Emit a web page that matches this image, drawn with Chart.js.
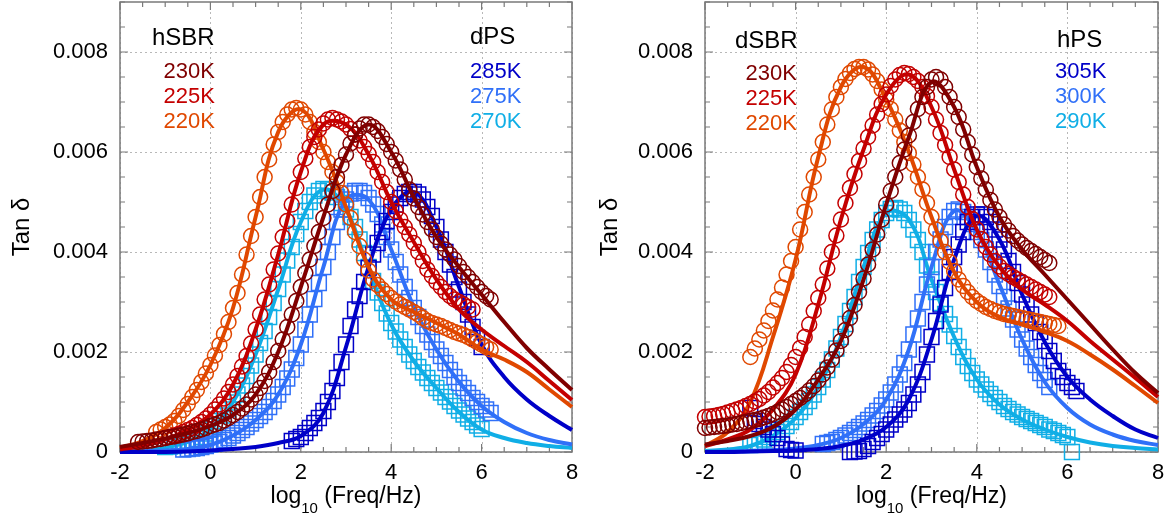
<!DOCTYPE html>
<html>
<head>
<meta charset="utf-8">
<script src="https://cdn.jsdelivr.net/npm/chart.js@4.4.1/dist/chart.umd.min.js"></script>
<style>
  html, body { margin: 0; padding: 0; background: #fff; }
  #wrap { position: relative; width: 1175px; height: 525px; }
  #c1 { position: absolute; left: 0; top: 0; }
  #c2 { position: absolute; left: 587px; top: 0; }
</style>
</head>
<body>
<div id="wrap">
  <canvas id="c1" width="587" height="525"></canvas>
  <canvas id="c2" width="588" height="525"></canvas>
</div>
<script>
// measured points, log10(freq)
const logFreq = [-2.0, -1.9, -1.8, -1.7, -1.6, -1.5, -1.4, -1.3, -1.2, -1.1, -1.0, -0.9, -0.8, -0.7, -0.6, -0.5, -0.4, -0.3, -0.2, -0.1,
                 0.0, 0.1, 0.2, 0.3, 0.4, 0.5, 0.6, 0.7, 0.8, 0.9, 1.0, 1.1, 1.2, 1.3, 1.4, 1.5, 1.6, 1.7, 1.8, 1.9,
                 2.0, 2.1, 2.2, 2.3, 2.4, 2.5, 2.6, 2.7, 2.8, 2.9, 3.0, 3.1, 3.2, 3.3, 3.4, 3.5, 3.6, 3.7, 3.8, 3.9,
                 4.0, 4.1, 4.2, 4.3, 4.4, 4.5, 4.6, 4.7, 4.8, 4.9, 5.0, 5.1, 5.2, 5.3, 5.4, 5.5, 5.6, 5.7, 5.8, 5.9,
                 6.0, 6.1, 6.2];
// fitted curves
const fitFreq = [-2, -1.5, -1, -0.5, 0, 0.5, 1, 1.5, 2, 2.5, 3, 3.5, 4, 4.5, 5, 5.5, 6, 6.5, 7, 7.5, 8];

const xTicks = [-2, 0, 2, 4, 6, 8];
const yTicks = [0, 0.002, 0.004, 0.006, 0.008];

// tan delta x 1e-3, aligned with logFreq (n = no point)
const n = null;
// left panel: hSBR circles
const hSBR230 = [n, n, n, n, 0.20, 0.21, 0.22, 0.23, 0.25, 0.26, 0.28, 0.30, 0.31, 0.33, 0.35, 0.37, 0.40, 0.42, 0.45, 0.48,
    0.52, 0.55, 0.58, 0.63, 0.68, 0.74, 0.80, 0.87, 0.95, 1.05, 1.15, 1.28, 1.42, 1.60, 1.80, 2.02, 2.25, 2.50, 2.75, 3.02,
    3.30, 3.58, 3.85, 4.12, 4.40, 4.68, 4.95, 5.22, 5.50, 5.74, 5.95, 6.17, 6.35, 6.47, 6.55, 6.55, 6.50, 6.42, 6.30, 6.16,
    6.00, 5.83, 5.65, 5.45, 5.25, 5.07, 4.90, 4.75, 4.60, 4.45, 4.30, 4.17, 4.05, 3.95, 3.85, 3.72, 3.60, 3.50, 3.40, 3.30,
    3.20, 3.12, 3.05];
const hSBR225 = [n, n, n, n, n, n, n, n, n, n, 0.28, 0.30, 0.33, 0.36, 0.40, 0.44, 0.48, 0.54, 0.60, 0.67,
    0.75, 0.85, 0.95, 1.07, 1.20, 1.35, 1.52, 1.71, 1.92, 2.17, 2.45, 2.75, 3.05, 3.35, 3.65, 3.97, 4.30, 4.62, 4.95, 5.28,
    5.60, 5.87, 6.10, 6.30, 6.45, 6.57, 6.65, 6.68, 6.65, 6.61, 6.55, 6.46, 6.35, 6.23, 6.10, 5.96, 5.80, 5.60, 5.40, 5.20,
    5.00, 4.82, 4.65, 4.50, 4.35, 4.18, 4.00, 3.82, 3.65, 3.52, 3.40, 3.30, 3.20, 3.12, 3.05, 3.00, 2.95, 2.90, 2.85, n,
    n, n, n];
const hSBR220 = [n, n, n, n, n, n, n, n, 0.40, 0.45, 0.50, 0.55, 0.62, 0.72, 0.84, 0.96, 1.10, 1.24, 1.40, 1.57,
    1.74, 1.93, 2.14, 2.36, 2.60, 2.88, 3.18, 3.55, 3.95, 4.32, 4.70, 5.10, 5.50, 5.85, 6.15, 6.40, 6.60, 6.75, 6.85, 6.88,
    6.85, 6.75, 6.60, 6.40, 6.20, 6.00, 5.80, 5.60, 5.40, 5.18, 4.95, 4.68, 4.40, 4.12, 3.85, 3.63, 3.45, 3.34, 3.25, 3.16,
    3.08, 3.01, 2.95, 2.90, 2.85, 2.80, 2.75, 2.68, 2.62, 2.58, 2.55, 2.52, 2.48, 2.44, 2.40, 2.37, 2.34, 2.30, 2.25, 2.20,
    2.15, 2.10, 2.05];
// left panel: dPS squares
const dPS285 = [n, n, n, n, n, n, n, n, n, n, n, n, n, n, n, n, n, n, n, n,
    n, n, n, n, n, n, n, n, n, n, n, n, n, n, n, n, n, n, 0.22, 0.26,
    0.30, 0.38, 0.48, 0.58, 0.68, 0.82, 1.00, 1.22, 1.48, 1.80, 2.15, 2.52, 2.85, 3.12, 3.40, 3.68, 3.95, 4.18, 4.40, 4.62,
    4.80, 4.95, 5.08, 5.16, 5.20, 5.20, 5.15, 5.05, 4.90, 4.72, 4.50, 4.25, 4.00, 3.75, 3.50, 3.25, 3.00, 2.75, 2.50, 2.28,
    2.10, n, n];
const dPS275 = [n, n, n, n, n, n, n, n, n, n, n, n, n, n, 0.05, 0.06, 0.07, 0.08, 0.10, 0.12,
    0.15, 0.17, 0.20, 0.24, 0.28, 0.33, 0.38, 0.44, 0.50, 0.57, 0.64, 0.72, 0.80, 0.90, 1.02, 1.15, 1.30, 1.47, 1.65, 1.88,
    2.15, 2.45, 2.75, 3.06, 3.38, 3.70, 4.00, 4.30, 4.60, 4.85, 5.05, 5.17, 5.22, 5.22, 5.18, 5.08, 4.95, 4.76, 4.55, 4.30,
    4.05, 3.80, 3.55, 3.30, 3.08, 2.88, 2.70, 2.52, 2.35, 2.20, 2.05, 1.92, 1.78, 1.64, 1.50, 1.38, 1.28, 1.18, 1.08, 1.00,
    0.92, 0.85, 0.78];
const dPS270 = [n, n, n, n, n, n, n, n, n, n, 0.10, 0.11, 0.12, 0.14, 0.16, 0.19, 0.22, 0.26, 0.30, 0.37,
    0.45, 0.53, 0.62, 0.73, 0.85, 0.99, 1.15, 1.33, 1.52, 1.73, 1.95, 2.18, 2.42, 2.70, 2.98, 3.26, 3.55, 3.83, 4.10, 4.36,
    4.60, 4.82, 5.00, 5.13, 5.22, 5.26, 5.25, 5.19, 5.10, 4.98, 4.85, 4.70, 4.50, 4.25, 3.98, 3.70, 3.42, 3.19, 2.98, 2.77,
    2.58, 2.41, 2.25, 2.10, 1.95, 1.82, 1.70, 1.59, 1.48, 1.38, 1.28, 1.19, 1.10, 1.01, 0.92, 0.83, 0.75, 0.67, 0.60, 0.53,
    0.46, n, n];
// right panel: dSBR circles
const dSBR230 = [0.48, 0.49, 0.50, 0.51, 0.52, 0.53, 0.55, 0.56, 0.58, 0.60, 0.62, 0.64, 0.66, 0.69, 0.72, 0.76, 0.80, 0.85, 0.90, 0.96,
    1.02, 1.08, 1.15, 1.23, 1.32, 1.43, 1.55, 1.69, 1.85, 2.03, 2.22, 2.44, 2.68, 2.94, 3.20, 3.47, 3.75, 4.05, 4.35, 4.65,
    4.95, 5.22, 5.50, 5.78, 6.05, 6.33, 6.60, 6.86, 7.10, 7.30, 7.45, 7.50, 7.45, 7.30, 7.10, 6.90, 6.70, 6.45, 6.20, 5.95,
    5.70, 5.47, 5.25, 5.04, 4.85, 4.70, 4.55, 4.43, 4.32, 4.23, 4.15, 4.08, 4.02, 3.96, 3.90, 3.84, 3.78, n, n, n,
    n, n, n];
const dSBR225 = [0.70, 0.71, 0.72, 0.74, 0.76, 0.79, 0.82, 0.85, 0.88, 0.92, 0.96, 1.01, 1.06, 1.13, 1.20, 1.29, 1.38, 1.48, 1.60, 1.74,
    1.90, 2.08, 2.30, 2.55, 2.82, 3.08, 3.35, 3.67, 4.00, 4.33, 4.65, 4.98, 5.28, 5.56, 5.82, 6.07, 6.30, 6.53, 6.75, 6.96,
    7.15, 7.32, 7.45, 7.54, 7.58, 7.56, 7.50, 7.42, 7.30, 7.12, 6.90, 6.65, 6.38, 6.14, 5.90, 5.65, 5.40, 5.15, 4.90, 4.66,
    4.45, 4.26, 4.10, 3.95, 3.82, 3.71, 3.62, 3.56, 3.50, 3.45, 3.40, 3.35, 3.30, 3.25, 3.20, 3.15, 3.10, n, n, n,
    n, n, n];
const dSBR220 = [n, n, n, n, n, n, n, n, n, n, 1.90, 2.07, 2.25, 2.43, 2.62, 2.83, 3.05, 3.29, 3.55, 3.82,
    4.10, 4.45, 4.80, 5.15, 5.50, 5.85, 6.20, 6.55, 6.85, 7.10, 7.30, 7.46, 7.58, 7.66, 7.70, 7.70, 7.65, 7.55, 7.42, 7.25,
    7.05, 6.86, 6.65, 6.43, 6.20, 5.98, 5.75, 5.50, 5.25, 4.98, 4.70, 4.45, 4.22, 4.00, 3.80, 3.62, 3.45, 3.32, 3.20, 3.10,
    3.02, 2.96, 2.90, 2.86, 2.82, 2.79, 2.76, 2.74, 2.72, 2.70, 2.68, 2.66, 2.64, 2.62, 2.60, 2.58, 2.56, 2.54, 2.52, n,
    n, n, n];
// right panel: hPS squares
const hPS305 = [n, n, n, n, n, n, n, n, n, n, 0.88, 0.62, 0.56, 0.50, 0.45, 0.36, 0.28, 0.15, 0.06, 0.04,
    0.03, n, n, n, n, n, n, n, n, n, n, n, 0.00, 0.01, 0.02, 0.06, 0.12, 0.20, 0.28, 0.36,
    0.45, 0.55, 0.65, 0.75, 0.85, 0.98, 1.15, 1.35, 1.60, 1.95, 2.30, 2.62, 2.95, 3.28, 3.60, 3.90, 4.15, 4.40, 4.60, 4.70,
    4.75, 4.75, 4.70, 4.60, 4.45, 4.25, 4.05, 3.82, 3.60, 3.38, 3.15, 2.95, 2.75, 2.58, 2.40, 2.22, 2.02, 1.82, 1.62, 1.50,
    1.38, 1.30, 1.22];
const hPS300 = [n, n, n, n, n, n, n, n, n, n, n, n, n, n, n, n, n, n, n, n,
    n, n, n, n, n, n, 0.16, 0.18, 0.20, 0.24, 0.28, 0.33, 0.38, 0.44, 0.50, 0.57, 0.64, 0.73, 0.82, 0.93,
    1.05, 1.19, 1.35, 1.55, 1.78, 2.05, 2.35, 2.67, 3.00, 3.35, 3.70, 4.00, 4.25, 4.50, 4.70, 4.82, 4.85, 4.80, 4.70, 4.56,
    4.40, 4.24, 4.05, 3.80, 3.55, 3.32, 3.10, 2.87, 2.65, 2.45, 2.25, 2.07, 1.90, 1.74, 1.58, 1.44, 1.30, n, n, n,
    n, n, n];
const hPS290 = [n, n, n, n, n, n, n, n, n, n, 0.14, 0.17, 0.20, 0.25, 0.30, 0.35, 0.40, 0.46, 0.52, 0.60,
    0.70, 0.80, 0.90, 1.02, 1.15, 1.30, 1.45, 1.64, 1.85, 2.07, 2.30, 2.56, 2.82, 3.10, 3.40, 3.70, 3.98, 4.24, 4.45, 4.64,
    4.78, 4.86, 4.88, 4.85, 4.78, 4.64, 4.45, 4.24, 4.00, 3.73, 3.45, 3.20, 2.98, 2.76, 2.55, 2.32, 2.10, 1.90, 1.72, 1.58,
    1.45, 1.35, 1.25, 1.16, 1.08, 1.00, 0.92, 0.86, 0.80, 0.75, 0.70, 0.66, 0.62, 0.58, 0.54, 0.50, 0.45, 0.42, 0.38, 0.34,
    0.30, 0.00, n];

// fitted curves x 1e-3, aligned with fitFreq
const hSBR230fit = [0.10, 0.18, 0.27, 0.38, 0.52, 0.74, 1.15, 2.00, 3.30, 4.70, 5.95, 6.55, 6.00, 5.10, 4.30, 3.70, 3.15, 2.60, 2.08, 1.65, 1.24];
const hSBR225fit = [0.05, 0.12, 0.25, 0.45, 0.75, 1.35, 2.45, 3.95, 5.60, 6.55, 6.55, 5.95, 5.00, 4.20, 3.45, 2.85, 2.45, 2.12, 1.80, 1.42, 1.04];
const hSBR220fit = [0.08, 0.22, 0.48, 1.00, 1.74, 2.88, 4.70, 6.40, 6.85, 6.05, 4.90, 3.70, 3.05, 2.80, 2.58, 2.35, 2.05, 1.85, 1.60, 1.25, 0.90];
const dPS285fit = [0.00, 0.00, 0.00, 0.01, 0.03, 0.06, 0.10, 0.18, 0.32, 0.78, 2.10, 3.70, 4.85, 5.20, 4.50, 3.30, 2.15, 1.50, 1.05, 0.72, 0.44];
const dPS275fit = [0.01, 0.02, 0.03, 0.06, 0.14, 0.33, 0.64, 1.15, 2.15, 3.70, 5.05, 5.05, 4.05, 2.90, 2.05, 1.40, 0.92, 0.60, 0.38, 0.24, 0.15];
const dPS270fit = [0.03, 0.05, 0.09, 0.20, 0.45, 1.00, 1.95, 3.25, 4.60, 5.25, 4.85, 3.65, 2.55, 1.82, 1.28, 0.80, 0.45, 0.28, 0.18, 0.12, 0.08];
const dSBR230fit = [0.15, 0.22, 0.32, 0.50, 0.85, 1.45, 2.22, 3.45, 4.95, 6.30, 7.40, 6.90, 5.70, 4.70, 4.05, 3.55, 3.05, 2.55, 2.05, 1.58, 1.18];
const dSBR225fit = [0.12, 0.25, 0.45, 0.85, 1.55, 2.95, 4.65, 6.05, 7.15, 7.55, 6.90, 5.65, 4.45, 3.70, 3.25, 2.95, 2.62, 2.22, 1.85, 1.48, 1.10];
const dSBR220fit = [0.12, 0.40, 1.00, 2.30, 3.85, 5.90, 7.30, 7.70, 7.05, 6.00, 4.70, 3.60, 3.00, 2.70, 2.55, 2.40, 2.22, 1.95, 1.65, 1.32, 0.98];
const hPS305fit = [0.00, 0.00, 0.01, 0.02, 0.03, 0.06, 0.12, 0.25, 0.50, 1.05, 2.25, 3.85, 4.72, 4.25, 3.15, 2.20, 1.50, 1.05, 0.72, 0.45, 0.28];
const hPS300fit = [0.00, 0.01, 0.02, 0.04, 0.07, 0.14, 0.28, 0.56, 1.05, 2.05, 3.70, 4.82, 4.40, 3.35, 2.25, 1.40, 0.88, 0.55, 0.35, 0.22, 0.14];
const hPS290fit = [0.02, 0.05, 0.12, 0.32, 0.68, 1.30, 2.30, 3.70, 4.78, 4.65, 3.45, 2.30, 1.45, 0.95, 0.65, 0.45, 0.30, 0.19, 0.12, 0.08, 0.05];

const FONT = "'Liberation Sans', Arial, Helvetica, sans-serif";
const RED3 = ['#800000', '#c40000', '#e04800'];   // 230K, 225K, 220K
const BLUE3 = ['#0000c8', '#3070f8', '#10aee6'];  // hottest .. coldest

function toPts(xs, ys) {
    const pts = [];
    xs.forEach((x, i) => { if (ys[i] !== null) pts.push({ x: x, y: ys[i] / 1000 }); });
    return pts;
}

function markers(vals, color, style) {
    return {
        type: 'scatter',
        data: toPts(logFreq, vals),
        showLine: false,
        pointStyle: style,
        pointRadius: style === 'rect' ? 10.5 : 7.5,
        pointBorderWidth: 1.5,
        borderColor: color,
        backgroundColor: 'rgba(0,0,0,0)',
        clip: false
    };
}

function fitLine(vals, color) {
    return {
        type: 'line',
        data: toPts(fitFreq, vals),
        borderColor: color,
        borderWidth: 4,
        pointRadius: 0,
        tension: 0.4,
        fill: false,
        clip: false
    };
}

// grid, frame, inward ticks and the texts
const decor = {
    id: 'decor',
    beforeDatasetsDraw(chart) {
        const { ctx, chartArea: a, scales: { x, y } } = chart;
        ctx.save();
        ctx.strokeStyle = '#b8b8b8';
        ctx.lineWidth = 1;
        ctx.setLineDash([2, 3]);
        xTicks.forEach(v => {
            const px = Math.round(x.getPixelForValue(v)) + 0.5;
            ctx.beginPath(); ctx.moveTo(px, a.top); ctx.lineTo(px, a.bottom); ctx.stroke();
        });
        yTicks.forEach(v => {
            const py = Math.round(y.getPixelForValue(v)) + 0.5;
            ctx.beginPath(); ctx.moveTo(a.left, py); ctx.lineTo(a.right, py); ctx.stroke();
        });
        ctx.setLineDash([]);
        ctx.strokeStyle = '#7a7a7a';
        ctx.lineWidth = 1.5;
        ctx.strokeRect(a.left, a.top, a.right - a.left, a.bottom - a.top);
        ctx.lineWidth = 1.2;
        for (let v = -2; v <= 8.001; v += 0.5) {
            const px = x.getPixelForValue(v);
            const len = Math.abs(v % 2) < 1e-6 ? 8 : 5;
            ctx.beginPath();
            ctx.moveTo(px, a.bottom); ctx.lineTo(px, a.bottom - len);
            ctx.moveTo(px, a.top); ctx.lineTo(px, a.top + len);
            ctx.stroke();
        }
        for (let v = 0; v <= 0.0090001; v += 0.0005) {
            const py = y.getPixelForValue(v);
            const len = Math.abs((v / 0.002) - Math.round(v / 0.002)) < 1e-6 ? 8 : 5;
            ctx.beginPath();
            ctx.moveTo(a.left, py); ctx.lineTo(a.left + len, py);
            ctx.moveTo(a.right, py); ctx.lineTo(a.right - len, py);
            ctx.stroke();
        }
        ctx.restore();
    },
    afterDraw(chart) {
        const { ctx, chartArea: a } = chart;
        const o = chart.options.plugins.decor;
        ctx.save();
        ctx.textBaseline = 'alphabetic';
        o.texts.forEach(t => {
            ctx.font = t.size + 'px ' + FONT;
            ctx.fillStyle = t.color;
            ctx.textAlign = t.align;
            ctx.fillText(t.text, t.x, t.y);
        });
        // y title
        ctx.save();
        ctx.translate(o.yTitleX, (a.top + a.bottom) / 2);
        ctx.rotate(-Math.PI / 2);
        ctx.font = '24px ' + FONT;
        ctx.fillStyle = '#000';
        ctx.textAlign = 'center';
        ctx.fillText('Tan \u03b4', 0, 0);
        ctx.restore();
        // x title with subscript
        const big = '23px ' + FONT, small = '15px ' + FONT;
        ctx.textAlign = 'left';
        ctx.fillStyle = '#000';
        ctx.font = big; const w1 = ctx.measureText('log').width; const w3 = ctx.measureText(' (Freq/Hz)').width;
        ctx.font = small; const w2 = ctx.measureText('10').width;
        const sx = (a.left + a.right) / 2 - (w1 + w2 + w3) / 2;
        ctx.font = big; ctx.fillText('log', sx, 503);
        ctx.font = small; ctx.fillText('10', sx + w1, 513);
        ctx.font = big; ctx.fillText(' (Freq/Hz)', sx + w1 + w2, 503);
        ctx.restore();
    }
};

function makePanel(id, yWidth, padRight, sets, texts, yTitleX) {
    return new Chart(document.getElementById(id), {
        data: { datasets: sets },
        options: {
            responsive: false,
            animation: false,
            layout: { autoPadding: false, padding: { top: 2, right: padRight, left: 0, bottom: 0 } },
            plugins: { legend: { display: false }, tooltip: { enabled: false },
                       decor: { texts: texts, yTitleX: yTitleX } },
            scales: {
                x: {
                    type: 'linear', min: -2, max: 8,
                    afterBuildTicks: s => { s.ticks = xTicks.map(v => ({ value: v })); },
                    afterFit: s => { s.height = 73; s.paddingLeft = 0; s.paddingRight = 0; },
                    grid: { display: false, drawTicks: false },
                    border: { display: false },
                    ticks: { color: '#000', padding: 8, font: { family: FONT, size: 22 }, maxRotation: 0 }
                },
                y: {
                    type: 'linear', min: 0, max: 0.009,
                    afterBuildTicks: s => { s.ticks = yTicks.map(v => ({ value: v })); },
                    afterFit: s => { s.width = yWidth; s.paddingTop = 0; s.paddingBottom = 0; },
                    grid: { display: false, drawTicks: false },
                    border: { display: false },
                    ticks: { color: '#000', padding: 12, font: { family: FONT, size: 22 },
                             callback: v => v === 0 ? '0' : v.toFixed(3) }
                }
            }
        },
        plugins: [decor]
    });
}

function panelSets(sbr, sbrFit, ps, psFit) {
    const sets = [];
    sbr.forEach((s, i) => { sets.push(markers(s, RED3[i], 'circle')); sets.push(fitLine(sbrFit[i], RED3[i])); });
    ps.forEach((s, i) => { sets.push(markers(s, BLUE3[i], 'rect')); sets.push(fitLine(psFit[i], BLUE3[i])); });
    return sets;
}

function tempTexts(head, hx, hy, temps, tx, ty0, align, colors) {
    const t = [{ text: head, x: hx, y: hy, size: 24, color: '#000', align: 'left' }];
    temps.forEach((s, i) => t.push({ text: s, x: tx, y: ty0 + i * 25, size: 22, color: colors[i], align: align }));
    return t;
}

makePanel('c1', 120, 15,
    panelSets([hSBR230, hSBR225, hSBR220], [hSBR230fit, hSBR225fit, hSBR220fit],
              [dPS285, dPS275, dPS270], [dPS285fit, dPS275fit, dPS270fit]),
    tempTexts('hSBR', 152, 45, ['230K', '225K', '220K'], 215, 78, 'right', RED3)
        .concat(tempTexts('dPS', 470, 44, ['285K', '275K', '270K'], 470, 78, 'left', BLUE3)),
    29);

makePanel('c2', 118, 17,
    panelSets([dSBR230, dSBR225, dSBR220], [dSBR230fit, dSBR225fit, dSBR220fit],
              [hPS305, hPS300, hPS290], [hPS305fit, hPS300fit, hPS290fit]),
    tempTexts('dSBR', 148, 48, ['230K', '225K', '220K'], 210, 80, 'right', RED3)
        .concat(tempTexts('hPS', 470, 47, ['305K', '300K', '290K'], 468, 78, 'left', BLUE3)),
    30);
</script>
</body>
</html>
